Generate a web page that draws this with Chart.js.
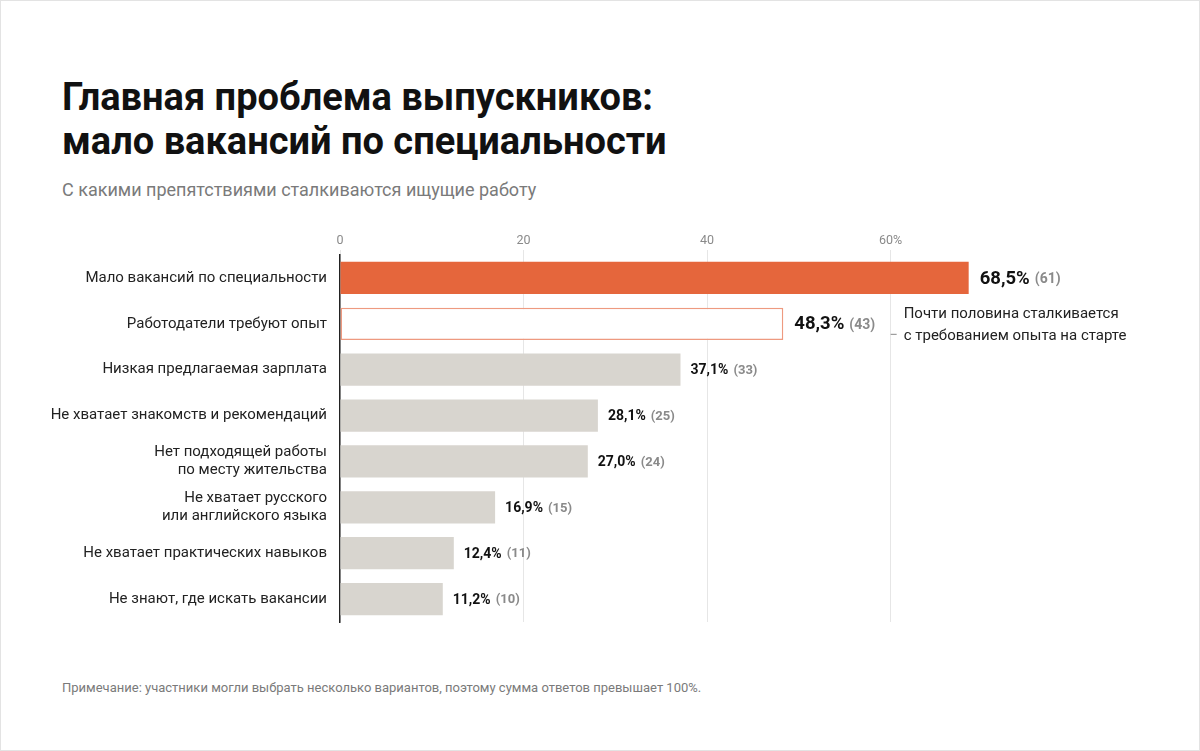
<!DOCTYPE html>
<html lang="ru">
<head>
<meta charset="utf-8">
<script src="https://cdn.jsdelivr.net/npm/chart.js@4"></script>
<style>
  html, body { margin: 0; padding: 0; background: #fff; }
  body { width: 1200px; height: 751px; position: relative; overflow: hidden; font-family: Roboto, sans-serif; }
  .frame { position: absolute; left: 0; top: 0; width: 1198px; height: 749px; border: 1px solid #e3e3e3; }
  .title { position: absolute; left: 62px; top: 75px; font-size: 38px; line-height: 44px; font-weight: 700; color: #111; }
  .subtitle { position: absolute; left: 62px; top: 180px; font-size: 18px; line-height: 20px; color: #7a7a7a; }
  .note { position: absolute; left: 62px; top: 680px; font-size: 13px; line-height: 15px; color: #7a7a7a; }
  #wrap { position: absolute; left: 0; top: 0; width: 1200px; height: 751px; }
</style>
</head>
<body>
<div class="frame"></div>
<div class="title">Главная проблема выпускников:<br>мало вакансий по специальности</div>
<div class="subtitle">С какими препятствиями сталкиваются ищущие работу</div>
<div class="note">Примечание: участники могли выбрать несколько вариантов, поэтому сумма ответов превышает 100%.</div>
<div id="wrap"><canvas id="chart"></canvas></div>
<script>
// Данные
const categories = [
  'Мало вакансий по специальности',
  'Работодатели требуют опыт',
  'Низкая предлагаемая зарплата',
  'Не хватает знакомств и рекомендаций',
  ['Нет подходящей работы', 'по месту жительства'],
  ['Не хватает русского', 'или английского языка'],
  'Не хватает практических навыков',
  'Не знают, где искать вакансии'
];
const percents = [68.5, 48.3, 37.1, 28.1, 27.0, 16.9, 12.4, 11.2];
const counts = [61, 43, 33, 25, 24, 15, 11, 10];
const tickValues = [0, 20, 40, 60];
const noteLines = ['Почти половина сталкивается', 'с требованием опыта на старте'];

const ORANGE = '#e5663c';
const GREY = '#d8d5cf';

const fmt = v => v.toFixed(1).replace('.', ',') + '%';

// Подписи значений справа от столбцов
const valueLabels = {
  id: 'valueLabels',
  afterDatasetsDraw(chart) {
    const ctx = chart.ctx;
    const meta = chart.getDatasetMeta(0);
    ctx.save();
    ctx.textBaseline = 'middle';
    meta.data.forEach((bar, i) => {
      const big = i < 2;
      const x = bar.x + (big ? 11 : 10);
      const y = bar.y + 1;
      ctx.font = (big ? '700 18.5px' : '700 14px') + ' Roboto';
      ctx.fillStyle = '#111';
      const txt = fmt(percents[i]);
      ctx.fillText(txt, x, y);
      const w = ctx.measureText(txt).width;
      ctx.font = (big ? '700 14px' : '700 13px') + ' Roboto';
      ctx.fillStyle = '#8a8a8a';
      ctx.fillText('(' + counts[i] + ')', x + w + 5, y + (big ? 1 : 0));
    });
    ctx.restore();
  }
};

// Комментарий у второго столбца
const sideNote = {
  id: 'sideNote',
  afterDraw(chart) {
    const ctx = chart.ctx;
    const xs = chart.scales.x;
    const bar = chart.getDatasetMeta(0).data[1];
    const x = xs.getPixelForValue(60);
    ctx.save();
    ctx.strokeStyle = '#888';
    ctx.lineWidth = 1;
    ctx.beginPath();
    ctx.moveTo(x, bar.y + 10.5);
    ctx.lineTo(x + 6, bar.y + 10.5);
    ctx.stroke();
    ctx.font = '15px Roboto';
    ctx.fillStyle = '#222';
    ctx.textBaseline = 'middle';
    ctx.fillText(noteLines[0], x + 13, bar.y - 10);
    ctx.fillText(noteLines[1], x + 13, bar.y + 12);
    ctx.restore();
  }
};

const ctx = document.getElementById('chart').getContext('2d');
const myChart = new Chart(ctx, {
  type: 'bar',
  data: {
    labels: categories,
    datasets: [{
      data: percents,
      backgroundColor: percents.map((v, i) => i === 0 ? ORANGE : (i === 1 ? '#ffffff' : GREY)),
      borderColor: percents.map((v, i) => i === 1 ? '#ee9a80' : 'rgba(0,0,0,0)'),
      borderWidth: percents.map((v, i) => i === 1 ? 1.5 : 0),
      borderSkipped: false,
      barPercentage: 0.78,
      categoryPercentage: 0.9
    }]
  },
  options: {
    indexAxis: 'y',
    responsive: true,
    maintainAspectRatio: false,
    animation: false,
    layout: { padding: { top: 225, bottom: 129, right: 34, left: 0 } },
    plugins: { legend: { display: false }, tooltip: { enabled: false } },
    scales: {
      x: {
        position: 'top',
        min: 0,
        max: 90,
        afterBuildTicks: scale => { scale.ticks = tickValues.map(v => ({ value: v })); },
        afterFit: scale => { scale.height = 30; },
        ticks: {
          color: '#8a8a8a',
          font: { family: 'Roboto', size: 12.5 },
          padding: 2,
          callback: v => v === 60 ? '60%' : v
        },
        grid: { color: '#e6e6e6', lineWidth: 1, tickLength: 5, drawTicks: true },
        border: { display: false }
      },
      y: {
        afterFit: scale => { scale.width = 340; },
        ticks: {
          color: '#222',
          font: { family: 'Roboto', size: 15, lineHeight: 1.2 },
          padding: 5
        },
        grid: { display: false },
        border: { display: true, color: '#222', width: 1.5 }
      }
    }
  },
  plugins: [valueLabels, sideNote]
});
</script>
</body>
</html>
